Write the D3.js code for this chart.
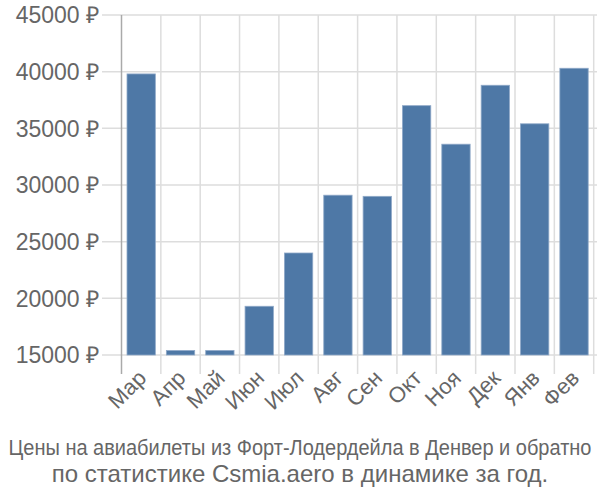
<!DOCTYPE html>
<html><head><meta charset="utf-8">
<script src="https://cdn.jsdelivr.net/npm/d3@7"></script>
<style>body{margin:0;background:#fff}svg{display:block}</style>
</head><body>
<svg id="c" width="600" height="500"></svg>
<script>
const categories = ["Мар","Апр","Май","Июн","Июл","Авг","Сен","Окт","Ноя","Дек","Янв","Фев"];
const prices = [39800,15400,15400,19300,24000,29100,29000,37000,33600,38800,35400,40300];
const yTicks = [15000,20000,25000,30000,35000,40000,45000];
const titleLines = ["Цены на авиабилеты из Форт-Лодердейла в Денвер и обратно","по статистике Csmia.aero в динамике за год."];

const svg = d3.select("#c");
const font = "'Liberation Sans', Arial, sans-serif";
const x = d3.scaleBand().domain(categories).range([121.5, 593.7]).paddingInner(0.28).paddingOuter(0.14);
const y = d3.scaleLinear().domain([15000,45000]).range([355,15]);
const step = x.step();
const b0 = 121.5;

// horizontal gridlines
svg.append("g").selectAll("line").data(yTicks).join("line")
  .attr("x1",102).attr("x2",597).attr("y1",d=>y(d)).attr("y2",d=>y(d))
  .attr("stroke","#dddddd").attr("stroke-width",1.5);
// vertical gridlines at band boundaries
svg.append("g").selectAll("line").data(d3.range(1,13)).join("line")
  .attr("x1",i=>b0+i*step).attr("x2",i=>b0+i*step).attr("y1",15).attr("y2",374)
  .attr("stroke","#dddddd").attr("stroke-width",1.5);
// y axis line
svg.append("line").attr("x1",b0).attr("x2",b0).attr("y1",15).attr("y2",374)
  .attr("stroke","#aaaaaa").attr("stroke-width",1.5);

// bars
svg.append("g").selectAll("rect").data(prices).join("rect")
  .attr("x",(d,i)=>x(categories[i])).attr("width",x.bandwidth())
  .attr("y",d=>y(d)).attr("height",d=>y(15000)-y(d))
  .attr("fill","#4e78a6").attr("stroke","#8fa9c8").attr("stroke-width",0.8);

// y labels
svg.append("g").selectAll("text").data(yTicks).join("text")
  .attr("x",99).attr("y",d=>y(d)).attr("dy","0.36em").attr("text-anchor","end")
  .attr("font-family",font).attr("font-size",23).attr("fill","#666")
  .text(d=>d+" ₽");

// x labels
svg.append("g").selectAll("text").data(categories).join("text")
  .attr("transform",c=>`translate(${x(c)+x.bandwidth()/2+1},${374}) rotate(-45)`)
  .attr("text-anchor","end").attr("dy","0.35em")
  .attr("font-family",font).attr("font-size",22).attr("fill","#666")
  .text(c=>c);

// title (first line is condensed in the reference: draw at smaller size, stretched vertically)
const t1 = svg.append("text").attr("transform","translate(300,455) scale(1,1.12)")
  .attr("x",0).attr("y",0).attr("text-anchor","middle")
  .attr("font-family",font).attr("font-size",20).attr("fill","#666")
  .text(titleLines[0]);
const nat = t1.node().getComputedTextLength();
if (nat > 590) t1.attr("textLength",590).attr("lengthAdjust","spacingAndGlyphs");
svg.append("text").attr("x",300).attr("y",482).attr("text-anchor","middle")
  .attr("font-family",font).attr("font-size",24).attr("fill","#666").text(titleLines[1]);
</script>
</body></html>
